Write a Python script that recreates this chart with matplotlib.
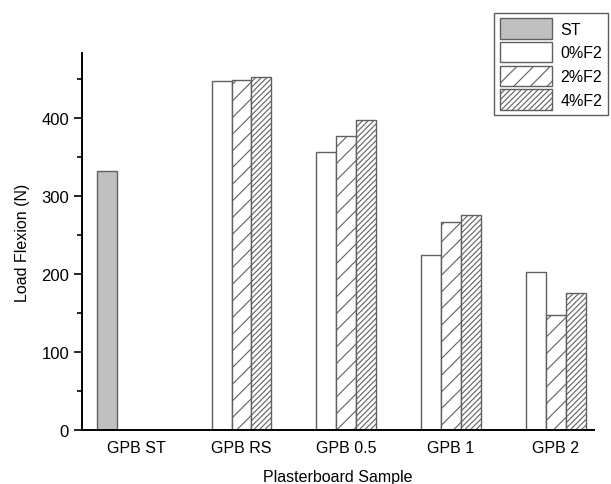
import numpy as np
import matplotlib.pyplot as plt
from matplotlib.ticker import MultipleLocator

plt.rcParams['font.family'] = ['Liberation Sans', 'DejaVu Sans']
plt.rcParams['hatch.linewidth'] = 0.8

# data
samples = ['GPB ST', 'GPB RS', 'GPB 0.5', 'GPB 1', 'GPB 2']
st_value = 332
f0 = [447, 356, 224, 203]   # 0%F2, for GPB RS .. GPB 2
f2 = [449, 377, 267, 147]   # 2%F2
f4 = [452, 397, 276, 176]   # 4%F2

x = np.arange(len(samples))
w = 0.19
edge = '#606060'

fig = plt.figure(figsize=(6.11, 4.85), dpi=100)
ax = fig.add_axes([0.1347, 0.1107, 0.8373, 0.778])

ax.bar(x[0] - 1.5 * w, st_value, w, color='#c0c0c0', edgecolor=edge, linewidth=1, label='ST')
ax.bar(x[1:] - w, f0, w, color='white', edgecolor=edge, linewidth=1, label='0%F2')
ax.bar(x[1:], f2, w, color='white', edgecolor=edge, linewidth=1, hatch='//', label='2%F2')
ax.bar(x[1:] + w, f4, w, color='white', edgecolor=edge, linewidth=1, hatch='//////', label='4%F2')

ax.set_xlim(-0.52, 4.365)
ax.set_ylim(0, 483)
ax.set_xticks(x)
ax.set_xticklabels(samples, fontsize=11.5)
ax.tick_params(axis='x', length=0, pad=7)
ax.yaxis.set_major_locator(MultipleLocator(100))
ax.yaxis.set_minor_locator(MultipleLocator(50))
ax.tick_params(axis='y', which='major', length=6, width=1.2, labelsize=12)
ax.tick_params(axis='y', which='minor', length=3.5, width=1.2)

for side in ['top', 'right']:
    ax.spines[side].set_visible(False)
for side in ['left', 'bottom']:
    ax.spines[side].set_linewidth(1.4)

ax.set_xlabel('Plasterboard Sample', fontsize=11.5, labelpad=10)
ax.set_ylabel('Load Flexion (N)', fontsize=11.5, labelpad=8)

leg = fig.legend(loc='upper right', bbox_to_anchor=(0.995, 0.972), fontsize=11.5,
                 frameon=True, fancybox=False, edgecolor='#333333',
                 handlelength=3.3, handleheight=1.6, labelspacing=0.2,
                 handletextpad=0.5, borderpad=0.35, borderaxespad=0.0)
leg.get_frame().set_linewidth(1.0)

fig.savefig('out.png', dpi=100)
